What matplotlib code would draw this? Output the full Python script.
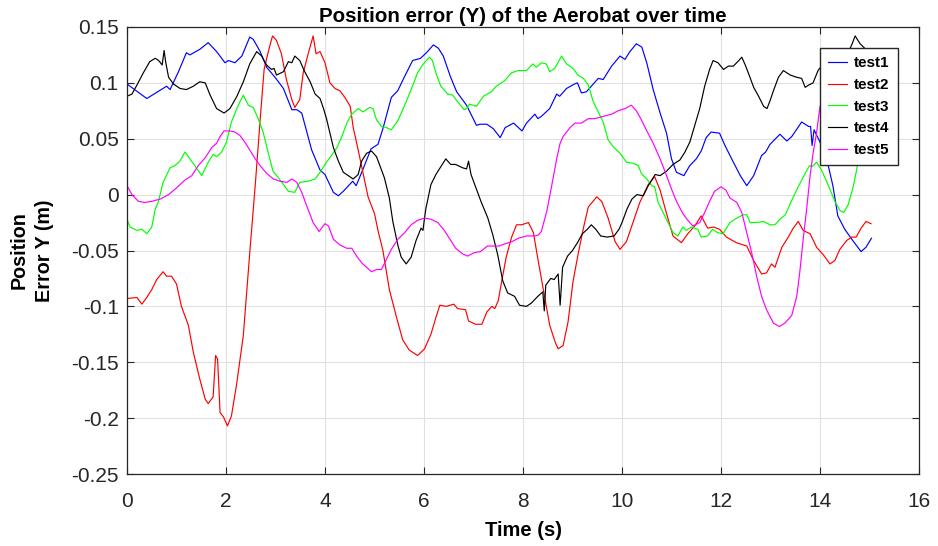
import numpy as np
import matplotlib
matplotlib.use("Agg")
from matplotlib import pyplot as plt

# time (s) / position error Y (m) for each run
test1 = np.array([
    (0, 0.099), (0.4, 0.086), (0.8, 0.097), (0.87, 0.094), (1.04, 0.11), (1.2, 0.127), (1.27, 0.125),
    (1.47, 0.13), (1.64, 0.136), (1.81, 0.128), (1.98, 0.118), (2.05, 0.12), (2.18, 0.118), (2.32, 0.124),
    (2.48, 0.141), (2.55, 0.139), (2.69, 0.128), (2.82, 0.114), (2.99, 0.105), (3.16, 0.095), (3.33, 0.076),
    (3.43, 0.076), (3.53, 0.073), (3.73, 0.04), (3.9, 0.022), (4.0, 0.018), (4.17, 0.002), (4.27, -0.001),
    (4.37, 0.003), (4.56, 0.012), (4.63, 0.008), (4.77, 0.023), (4.93, 0.041), (5.07, 0.045), (5.17, 0.059),
    (5.34, 0.087), (5.47, 0.093), (5.6, 0.105), (5.77, 0.12), (5.93, 0.122), (6.05, 0.127), (6.19, 0.134),
    (6.29, 0.131), (6.39, 0.124), (6.53, 0.106), (6.66, 0.092), (6.86, 0.08), (7.06, 0.062), (7.13, 0.063),
    (7.27, 0.063), (7.4, 0.059), (7.54, 0.051), (7.64, 0.06), (7.81, 0.064), (7.98, 0.057), (8.07, 0.064),
    (8.24, 0.072), (8.3, 0.068), (8.37, 0.07), (8.54, 0.077), (8.68, 0.09), (8.74, 0.088), (8.88, 0.095),
    (9.04, 0.099), (9.1, 0.1), (9.18, 0.091), (9.28, 0.092), (9.52, 0.104), (9.62, 0.103), (9.79, 0.115),
    (9.96, 0.124), (10.06, 0.121), (10.16, 0.128), (10.29, 0.135), (10.4, 0.132), (10.5, 0.118), (10.63, 0.094),
    (10.77, 0.073), (10.9, 0.055), (11.0, 0.032), (11.1, 0.02), (11.25, 0.017), (11.37, 0.026), (11.5, 0.032),
    (11.6, 0.039), (11.7, 0.051), (11.8, 0.056), (11.97, 0.055), (12.08, 0.044), (12.25, 0.029), (12.39, 0.017),
    (12.52, 0.008), (12.66, 0.017), (12.82, 0.035), (12.9, 0.038), (12.99, 0.045), (13.19, 0.054), (13.33, 0.048),
    (13.43, 0.052), (13.63, 0.065), (13.77, 0.061), (13.81, 0.061), (13.84, 0.044), (13.88, 0.058), (13.99, 0.048),
    (14.13, 0.033), (14.26, 0.008), (14.36, -0.019), (14.5, -0.031), (14.66, -0.041), (14.83, -0.051),
    (14.93, -0.047), (15.04, -0.039)])

test2 = np.array([
    (0, -0.093), (0.2, -0.092), (0.3, -0.098), (0.4, -0.092), (0.5, -0.085), (0.6, -0.076), (0.73, -0.069),
    (0.8, -0.073), (0.9, -0.073), (1.0, -0.08), (1.1, -0.1), (1.24, -0.117), (1.34, -0.141), (1.47, -0.165),
    (1.58, -0.183), (1.64, -0.187), (1.74, -0.181), (1.79, -0.144), (1.83, -0.147), (1.88, -0.195),
    (1.95, -0.199), (2.03, -0.207), (2.11, -0.198), (2.21, -0.171), (2.35, -0.126), (2.48, -0.052),
    (2.59, 0.008), (2.69, 0.067), (2.77, 0.112), (2.86, 0.129), (2.94, 0.142), (3.02, 0.138), (3.12, 0.126),
    (3.22, 0.103), (3.33, 0.085), (3.39, 0.078), (3.49, 0.085), (3.56, 0.109), (3.66, 0.126), (3.76, 0.142),
    (3.82, 0.126), (3.9, 0.128), (4.0, 0.118), (4.1, 0.1), (4.2, 0.095), (4.3, 0.093), (4.4, 0.087),
    (4.51, 0.079), (4.57, 0.06), (4.67, 0.04), (4.77, 0.019), (4.87, -0.002), (5.0, -0.017), (5.07, -0.032),
    (5.17, -0.05), (5.3, -0.085), (5.44, -0.109), (5.57, -0.13), (5.7, -0.139), (5.87, -0.144), (6.01, -0.138),
    (6.14, -0.125), (6.24, -0.11), (6.32, -0.099), (6.45, -0.1), (6.6, -0.098), (6.68, -0.102), (6.84, -0.103),
    (6.9, -0.113), (7.04, -0.116), (7.17, -0.116), (7.27, -0.105), (7.37, -0.1), (7.43, -0.102), (7.5, -0.095),
    (7.56, -0.08), (7.66, -0.056), (7.77, -0.038), (7.87, -0.027), (7.97, -0.027), (8.11, -0.025),
    (8.21, -0.034), (8.31, -0.06), (8.41, -0.085), (8.54, -0.117), (8.65, -0.132), (8.71, -0.138),
    (8.81, -0.135), (8.91, -0.114), (9.01, -0.078), (9.11, -0.054), (9.22, -0.03), (9.32, -0.011),
    (9.49, -0.002), (9.59, -0.006), (9.72, -0.021), (9.86, -0.042), (9.96, -0.049), (10.09, -0.042),
    (10.23, -0.024), (10.36, -0.007), (10.53, 0.009), (10.66, 0.016), (10.77, 0.004), (10.9, -0.017),
    (11.03, -0.037), (11.2, -0.043), (11.33, -0.035), (11.47, -0.028), (11.6, -0.019), (11.73, -0.03),
    (11.85, -0.029), (11.97, -0.031), (12.11, -0.038), (12.31, -0.043), (12.52, -0.046), (12.66, -0.059),
    (12.82, -0.071), (12.92, -0.07), (13.02, -0.062), (13.09, -0.065), (13.23, -0.047), (13.36, -0.038),
    (13.46, -0.03), (13.56, -0.024), (13.66, -0.032), (13.8, -0.035), (13.93, -0.047), (14.07, -0.054),
    (14.2, -0.062), (14.3, -0.059), (14.4, -0.049), (14.54, -0.041), (14.64, -0.038), (14.73, -0.038),
    (14.83, -0.03), (14.93, -0.024), (15.03, -0.026)])

test3 = np.array([
    (0, -0.022), (0.06, -0.029), (0.2, -0.032), (0.3, -0.031), (0.4, -0.035), (0.5, -0.029), (0.57, -0.013),
    (0.63, -0.007), (0.73, 0.011), (0.87, 0.024), (0.97, 0.026), (1.07, 0.03), (1.17, 0.038), (1.27, 0.032),
    (1.37, 0.026), (1.51, 0.017), (1.64, 0.029), (1.74, 0.036), (1.81, 0.034), (1.91, 0.038), (2.01, 0.047),
    (2.11, 0.065), (2.22, 0.077), (2.28, 0.083), (2.35, 0.089), (2.45, 0.08), (2.55, 0.078), (2.65, 0.068),
    (2.75, 0.056), (2.85, 0.038), (2.95, 0.021), (3.06, 0.015), (3.16, 0.009), (3.26, 0.003), (3.39, 0.002),
    (3.49, 0.011), (3.66, 0.012), (3.8, 0.014), (3.9, 0.02), (4.03, 0.029), (4.13, 0.035), (4.24, 0.042),
    (4.34, 0.052), (4.44, 0.064), (4.54, 0.072), (4.67, 0.077), (4.77, 0.074), (4.9, 0.078), (4.97, 0.077),
    (5.04, 0.067), (5.14, 0.061), (5.24, 0.06), (5.34, 0.058), (5.47, 0.066), (5.6, 0.079), (5.74, 0.094),
    (5.87, 0.109), (5.97, 0.116), (6.11, 0.123), (6.17, 0.12), (6.24, 0.109), (6.34, 0.097), (6.48, 0.09),
    (6.58, 0.089), (6.68, 0.083), (6.81, 0.076), (6.86, 0.077), (6.92, 0.081), (7.06, 0.079), (7.2, 0.088),
    (7.36, 0.092), (7.46, 0.097), (7.63, 0.102), (7.77, 0.109), (7.9, 0.111), (8.07, 0.111), (8.2, 0.117),
    (8.27, 0.114), (8.37, 0.118), (8.47, 0.117), (8.54, 0.11), (8.64, 0.113), (8.78, 0.124), (8.88, 0.117),
    (9.01, 0.113), (9.11, 0.107), (9.22, 0.104), (9.32, 0.098), (9.42, 0.083), (9.52, 0.074), (9.62, 0.065),
    (9.72, 0.049), (9.82, 0.043), (9.96, 0.037), (10.09, 0.029), (10.23, 0.028), (10.33, 0.026),
    (10.39, 0.019), (10.5, 0.014), (10.6, 0.008), (10.66, 0.007), (10.73, -0.007), (10.83, -0.016),
    (10.93, -0.025), (11.03, -0.034), (11.13, -0.037), (11.23, -0.029), (11.3, -0.032), (11.4, -0.029),
    (11.53, -0.031), (11.6, -0.038), (11.73, -0.037), (11.83, -0.031), (11.93, -0.034), (12.04, -0.035),
    (12.18, -0.025), (12.32, -0.021), (12.45, -0.018), (12.52, -0.018), (12.59, -0.025), (12.72, -0.025),
    (12.86, -0.024), (12.99, -0.027), (13.09, -0.027), (13.19, -0.022), (13.3, -0.018), (13.43, -0.005),
    (13.56, 0.007), (13.7, 0.019), (13.79, 0.026), (13.84, 0.025), (13.93, 0.029), (14.03, 0.022),
    (14.17, 0.008), (14.3, -0.006), (14.4, -0.014), (14.48, -0.016), (14.57, -0.009), (14.67, 0.007),
    (14.74, 0.022), (14.8, 0.04), (14.9, 0.06), (15.03, 0.075)])

test4 = np.array([
    (0, 0.088), (0.1, 0.09), (0.2, 0.098), (0.33, 0.109), (0.46, 0.119), (0.57, 0.122), (0.64, 0.12),
    (0.71, 0.116), (0.75, 0.129), (0.78, 0.119), (0.84, 0.105), (0.94, 0.099), (1.07, 0.095), (1.2, 0.094),
    (1.34, 0.097), (1.47, 0.101), (1.58, 0.1), (1.68, 0.089), (1.81, 0.077), (1.96, 0.073), (2.08, 0.077),
    (2.22, 0.088), (2.35, 0.101), (2.48, 0.117), (2.62, 0.128), (2.72, 0.124), (2.82, 0.116), (2.92, 0.112),
    (2.97, 0.113), (3.02, 0.107), (3.16, 0.11), (3.26, 0.119), (3.33, 0.118), (3.39, 0.124), (3.49, 0.12),
    (3.59, 0.11), (3.7, 0.101), (3.8, 0.09), (3.9, 0.086), (3.97, 0.077), (4.03, 0.068), (4.1, 0.055),
    (4.17, 0.042), (4.27, 0.03), (4.37, 0.02), (4.47, 0.017), (4.57, 0.014), (4.67, 0.018), (4.74, 0.03),
    (4.84, 0.037), (4.94, 0.039), (5.04, 0.034), (5.1, 0.027), (5.2, 0.015), (5.3, -0.003), (5.37, -0.024),
    (5.47, -0.045), (5.54, -0.056), (5.64, -0.062), (5.74, -0.056), (5.84, -0.041), (5.94, -0.03),
    (5.98, -0.032), (6.01, -0.021), (6.04, -0.012), (6.14, 0.009), (6.24, 0.018), (6.34, 0.025), (6.44, 0.032),
    (6.54, 0.027), (6.64, 0.027), (6.78, 0.024), (6.86, 0.023), (6.9, 0.03), (6.95, 0.018), (7.05, 0.006),
    (7.15, -0.006), (7.29, -0.021), (7.39, -0.036), (7.49, -0.054), (7.59, -0.077), (7.69, -0.088),
    (7.83, -0.091), (7.93, -0.099), (8.07, -0.1), (8.17, -0.097), (8.3, -0.091), (8.4, -0.087), (8.43, -0.104),
    (8.46, -0.081), (8.56, -0.075), (8.63, -0.076), (8.71, -0.071), (8.75, -0.099), (8.8, -0.065),
    (8.9, -0.055), (9.0, -0.05), (9.1, -0.043), (9.2, -0.035), (9.3, -0.031), (9.38, -0.027), (9.47, -0.031),
    (9.57, -0.037), (9.7, -0.038), (9.84, -0.037), (9.94, -0.031), (10.0, -0.025), (10.1, -0.013),
    (10.2, -0.004), (10.3, 0.0), (10.43, -0.001), (10.53, 0.008), (10.67, 0.018), (10.77, 0.017),
    (10.9, 0.021), (11.03, 0.027), (11.17, 0.031), (11.27, 0.038), (11.37, 0.047), (11.47, 0.062),
    (11.57, 0.077), (11.67, 0.097), (11.77, 0.112), (11.84, 0.12), (11.94, 0.118), (12.05, 0.112),
    (12.15, 0.115), (12.25, 0.115), (12.36, 0.12), (12.42, 0.123), (12.49, 0.116), (12.56, 0.108),
    (12.66, 0.096), (12.76, 0.088), (12.86, 0.079), (12.93, 0.077), (12.99, 0.084), (13.06, 0.093),
    (13.16, 0.105), (13.26, 0.111), (13.4, 0.107), (13.53, 0.105), (13.63, 0.104), (13.7, 0.096),
    (13.77, 0.098), (13.86, 0.1), (13.96, 0.111), (14.03, 0.115), (14.2, 0.118), (14.4, 0.122),
    (14.55, 0.125), (14.65, 0.135), (14.71, 0.142), (14.81, 0.135), (14.88, 0.132), (15.03, 0.125)])

test5 = np.array([
    (0, 0.008), (0.1, 0.0), (0.23, -0.006), (0.36, -0.007), (0.5, -0.006), (0.67, -0.004), (0.84, 0.0),
    (1.0, 0.006), (1.17, 0.013), (1.31, 0.017), (1.44, 0.026), (1.58, 0.033), (1.71, 0.042), (1.81, 0.046),
    (1.88, 0.052), (1.96, 0.057), (2.08, 0.057), (2.18, 0.056), (2.28, 0.053), (2.38, 0.047), (2.48, 0.04),
    (2.59, 0.032), (2.69, 0.026), (2.82, 0.019), (2.96, 0.014), (3.09, 0.012), (3.23, 0.011), (3.33, 0.014),
    (3.43, 0.011), (3.53, 0.002), (3.63, -0.01), (3.76, -0.025), (3.88, -0.033), (4.0, -0.026),
    (4.07, -0.028), (4.17, -0.04), (4.3, -0.045), (4.44, -0.048), (4.54, -0.048), (4.64, -0.055),
    (4.74, -0.061), (4.84, -0.065), (4.94, -0.069), (5.04, -0.067), (5.14, -0.067), (5.24, -0.058),
    (5.34, -0.049), (5.47, -0.04), (5.61, -0.034), (5.74, -0.027), (5.87, -0.023), (6.01, -0.021),
    (6.14, -0.022), (6.28, -0.025), (6.41, -0.032), (6.54, -0.041), (6.64, -0.048), (6.78, -0.053),
    (6.88, -0.055), (7.01, -0.052), (7.14, -0.051), (7.28, -0.046), (7.51, -0.046), (7.64, -0.044),
    (7.78, -0.042), (7.91, -0.039), (8.07, -0.037), (8.24, -0.037), (8.31, -0.036), (8.37, -0.033),
    (8.48, -0.015), (8.58, 0.008), (8.68, 0.032), (8.75, 0.046), (8.81, 0.052), (8.95, 0.06), (9.05, 0.064),
    (9.18, 0.064), (9.32, 0.068), (9.45, 0.068), (9.62, 0.07), (9.79, 0.072), (9.92, 0.075), (10.06, 0.077),
    (10.19, 0.08), (10.29, 0.075), (10.39, 0.067), (10.49, 0.058), (10.63, 0.046), (10.77, 0.032),
    (10.9, 0.017), (11.0, 0.005), (11.1, -0.006), (11.23, -0.017), (11.33, -0.023), (11.43, -0.028),
    (11.57, -0.025), (11.67, -0.016), (11.77, -0.006), (11.87, 0.003), (12.0, 0.007), (12.1, 0.004),
    (12.18, -0.003), (12.32, -0.007), (12.42, -0.016), (12.52, -0.034), (12.62, -0.052), (12.72, -0.073),
    (12.82, -0.091), (12.92, -0.103), (13.06, -0.115), (13.18, -0.118), (13.29, -0.115), (13.43, -0.108),
    (13.53, -0.091), (13.59, -0.07), (13.66, -0.04), (13.73, -0.013), (13.8, 0.017), (13.86, 0.037),
    (13.93, 0.055), (14.0, 0.079), (14.2, 0.1), (14.5, 0.11), (15.03, 0.1)])

runs = [test1, test2, test3, test4, test5]
names = ["test1", "test2", "test3", "test4", "test5"]
colors = ["#0000ff", "#ff0000", "#00ff00", "#000000", "#ff00ff"]

xticks = np.arange(0, 17, 2)
yticks = [-0.25, -0.2, -0.15, -0.1, -0.05, 0, 0.05, 0.1, 0.15]
ytick_labels = ["-0.25", "-0.2", "-0.15", "-0.1", "-0.05", "0", "0.05", "0.1", "0.15"]

plt.rcParams["font.family"] = ["Liberation Sans", "DejaVu Sans"]
axcol = "#262626"

fig = plt.figure(figsize=(9.38, 5.46), dpi=100)
ax = fig.add_axes([127 / 938, 72 / 546, 792 / 938, 447 / 546])

for data, name, c in zip(runs, names, colors):
    ax.plot(data[:, 0], data[:, 1], color=c, lw=0.85, label=name)

ax.set_xlim(0, 16)
ax.set_ylim(-0.25, 0.15)
ax.set_xticks(xticks)
ax.set_yticks(yticks)
ax.set_yticklabels(ytick_labels)
ax.grid(True, color="#e0e0e0", lw=0.8)
ax.set_axisbelow(True)
ax.tick_params(direction="in", top=True, right=True, length=5, width=0.8,
               colors=axcol, labelsize=15)
ax.tick_params(axis="y", pad=6)
ax.tick_params(axis="x", pad=13)
for s in ax.spines.values():
    s.set_color(axcol)
    s.set_linewidth(0.9)

ax.set_title("Position error (Y) of the Aerobat over time", fontsize=14.8,
             fontweight="bold", pad=3.5)
ax.set_xlabel("Time (s)", fontsize=14.5, fontweight="bold", labelpad=7)
ax.set_ylabel("Position\nError Y (m)", fontsize=14.2, fontweight="bold",
              labelpad=12, linespacing=1.45)

leg = ax.legend(loc="upper right", bbox_to_anchor=(0.9735, 0.953), borderaxespad=0,
                fancybox=False, framealpha=1, edgecolor=axcol,
                prop={"weight": "bold", "size": 11}, handlelength=1.25,
                handletextpad=0.45, borderpad=0.55, labelspacing=0.5)
leg.get_frame().set_linewidth(1.0)

fig.savefig("out.png", dpi=100)
